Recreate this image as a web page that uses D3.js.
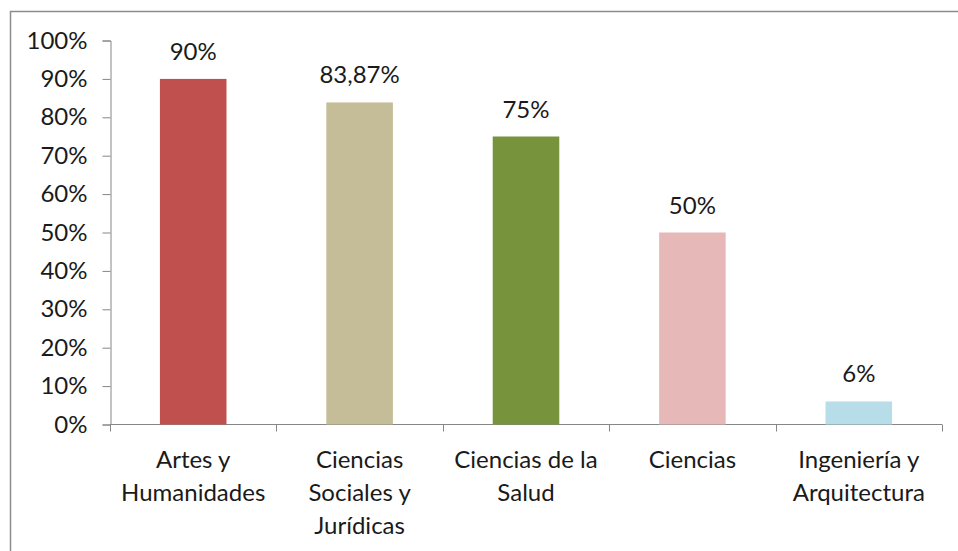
<!DOCTYPE html>
<html>
<head>
    <meta charset="UTF-8">
    <script src="https://d3js.org/d3.v7.min.js"></script>
    <style>
        body { margin: 0; background: #fff; }
        text { font-family: Lato, "Open Sans", sans-serif; fill: #1a1a1a; }
    </style>
</head>
<body>
    <div id="chart"></div>
    <script>
        // data
        const categories = ["Artes y Humanidades", "Ciencias Sociales y Jurídicas", "Ciencias de la Salud", "Ciencias", "Ingeniería y Arquitectura"];
        const labelLines = [["Artes y", "Humanidades"], ["Ciencias", "Sociales y", "Jurídicas"], ["Ciencias de la", "Salud"], ["Ciencias"], ["Ingeniería y", "Arquitectura"]];
        const values = [90, 83.87, 75, 50, 6];
        const valueLabels = ["90%", "83,87%", "75%", "50%", "6%"];
        const colors = ["#C0504D", "#C4BD97", "#77933C", "#E6B9B8", "#B7DDE8"];
        const yTicks = [0, 10, 20, 30, 40, 50, 60, 70, 80, 90, 100];

        const width = 958;
        const height = 551;
        const fontSize = 24;

        const svg = d3.select('#chart')
            .append('svg')
            .attr('width', width)
            .attr('height', height);

        // outer chart border (right / bottom edges run off the picture)
        svg.append('rect')
            .attr('x', 10.5)
            .attr('y', 11.5)
            .attr('width', 960)
            .attr('height', 560)
            .attr('fill', 'none')
            .attr('stroke', '#8c8c8c')
            .attr('stroke-width', 1.5);

        const xScale = d3.scaleBand()
            .domain(categories)
            .range([110, 942])
            .paddingInner(0.6)
            .paddingOuter(0.3);

        const yScale = d3.scaleLinear()
            .domain([0, 100])
            .range([424.5, 40.5]);

        const yAxis = d3.axisLeft(yScale)
            .tickValues(yTicks)
            .tickSize(8)
            .tickPadding(15)
            .tickFormat(d => d + '%');

        const gy = svg.append('g')
            .attr('transform', 'translate(110.5, 0)')
            .call(yAxis);
        gy.select('.domain').attr('stroke', '#868686');
        gy.selectAll('.tick line').attr('stroke', '#868686');
        gy.selectAll('.tick text')
            .style('font-size', fontSize + 'px')
            .attr('fill', '#1a1a1a');

        // x axis with ticks between categories
        const step = xScale.step();
        const xBoundaries = d3.range(categories.length + 1).map(i => 110 + i * step);
        const gx = svg.append('g');
        gx.append('line')
            .attr('x1', 110).attr('x2', 942)
            .attr('y1', yScale(0)).attr('y2', yScale(0))
            .attr('stroke', '#868686');
        gx.selectAll('.xtick')
            .data(xBoundaries)
            .enter()
            .append('line')
            .attr('x1', d => Math.round(d) + 0.5)
            .attr('x2', d => Math.round(d) + 0.5)
            .attr('y1', yScale(0))
            .attr('y2', yScale(0) + 7)
            .attr('stroke', '#868686');

        svg.selectAll('.bar')
            .data(values)
            .enter()
            .append('rect')
            .attr('x', (d, i) => xScale(categories[i]))
            .attr('width', xScale.bandwidth())
            .attr('y', d => yScale(d))
            .attr('height', d => yScale(0) - yScale(d))
            .attr('fill', (d, i) => colors[i]);

        svg.selectAll('.value-label')
            .data(values)
            .enter()
            .append('text')
            .attr('x', (d, i) => xScale(categories[i]) + xScale.bandwidth() / 2)
            .attr('y', d => yScale(d) - 19)
            .attr('text-anchor', 'middle')
            .style('font-size', fontSize + 'px')
            .text((d, i) => valueLabels[i]);

        const cat = svg.selectAll('.cat-label')
            .data(labelLines)
            .enter()
            .append('text')
            .attr('text-anchor', 'middle')
            .style('font-size', fontSize + 'px');
        cat.each(function (lines, i) {
            const cx = xScale(categories[i]) + xScale.bandwidth() / 2;
            d3.select(this).selectAll('tspan')
                .data(lines)
                .enter()
                .append('tspan')
                .attr('x', cx)
                .attr('y', (l, j) => 468 + j * 33)
                .text(l => l);
        });
    </script>
</body>
</html>
